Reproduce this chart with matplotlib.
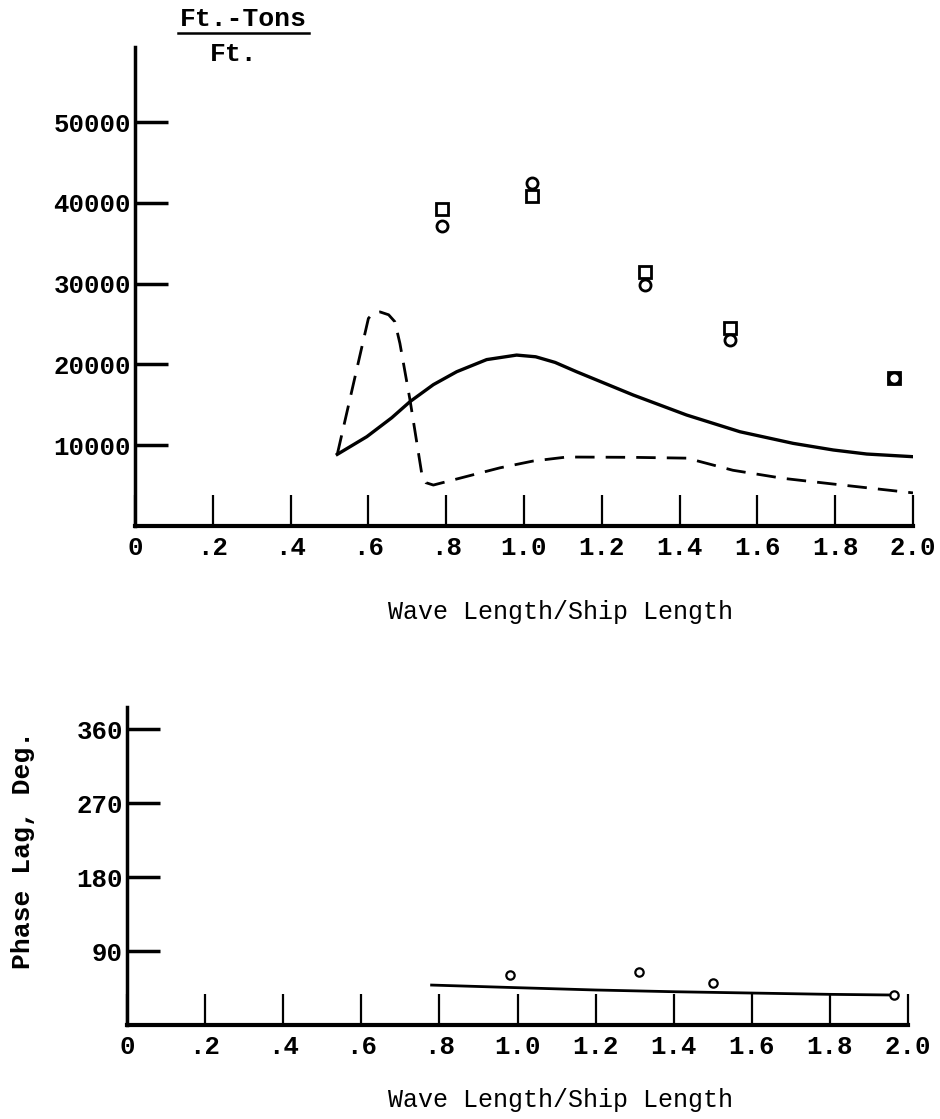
import matplotlib
matplotlib.use("Agg")
import matplotlib.pyplot as plt
from matplotlib.lines import Line2D

plt.rcParams['font.family'] = ['Liberation Mono', 'DejaVu Sans Mono']

# upper chart: bending moment, Ft.-Tons/Ft.
pts_x = [0.79, 1.02, 1.31, 1.53, 1.95]
squares_y = [39300, 40800, 31500, 24500, 18300]
circles_y = [37200, 42500, 29800, 23000, 18300]

solid_x = [0.52, 0.596, 0.66, 0.707, 0.767, 0.827, 0.904, 0.981, 1.03, 1.08, 1.135, 1.281, 1.418, 1.555, 1.692, 1.795, 1.881, 2.0]
solid_y = [8870, 11060, 13400, 15400, 17500, 19100, 20600, 21160, 20950, 20250, 19100, 16210, 13740, 11670, 10230, 9410, 8910, 8580]

dash_x = [0.52, 0.600, 0.612, 0.630, 0.652, 0.668, 0.681, 0.707, 0.737, 0.748, 0.767, 0.938, 1.023, 1.11, 1.28, 1.419, 1.537, 1.666, 1.794, 2.0]
dash_y = [8870, 25700, 26350, 26500, 26150, 25290, 22610, 15590, 6520, 5360, 5070, 7200, 8040, 8540, 8500, 8400, 6900, 5900, 5200, 4100]

# lower chart: phase lag
lag_x = [0.98, 1.31, 1.50, 1.965]
lag_y = [60.8, 64.5, 51, 36.5]
lagline_x = [0.78, 1.0, 1.2, 1.4, 1.8, 1.96]
lagline_y = [48.6, 45.4, 42.6, 40.5, 37.3, 36.5]

xticks = [0, 0.2, 0.4, 0.6, 0.8, 1.0, 1.2, 1.4, 1.6, 1.8, 2.0]
xticklabels = ['0', '.2', '.4', '.6', '.8', '1.0', '1.2', '1.4', '1.6', '1.8', '2.0']
yticks_top = [10000, 20000, 30000, 40000, 50000]
yticks_bot = [90, 180, 270, 360]

fs = 18.5

fig = plt.figure(figsize=(9.4, 11.19), dpi=100)

ax1 = fig.add_axes([135/940, 1-526/1119, 778/940, 479/1119])
ax1.plot(solid_x, solid_y, color='black', lw=2.4, solid_joinstyle='round')
ax1.plot(dash_x, dash_y, color='black', lw=2.0, dashes=(7, 4))
ax1.plot(pts_x, squares_y, 's', ms=8, mfc='none', mec='black', mew=2.0)
ax1.plot(pts_x, circles_y, 'o', ms=8, mfc='none', mec='black', mew=2.0)
ax1.set_xlim(0, 2.0)
ax1.set_ylim(0, 59300)

ax2 = fig.add_axes([127/940, 1-1025/1119, 781/940, 318/1119])
ax2.plot(lagline_x, lagline_y, color='black', lw=2.0)
ax2.plot(lag_x, lag_y, 'o', ms=6, mfc='white', mec='black', mew=1.6)
ax2.set_xlim(0, 2.0)
ax2.set_ylim(0, 387)

for ax, yt in [(ax1, yticks_top), (ax2, yticks_bot)]:
    ax.spines['top'].set_visible(False)
    ax.spines['right'].set_visible(False)
    ax.spines['left'].set_linewidth(2.5)
    ax.spines['bottom'].set_linewidth(3)
    ax.set_xticks(xticks)
    ax.set_xticklabels(xticklabels, fontweight='bold')
    ax.set_yticks(yt)
    ax.set_yticklabels([str(v) for v in yt], fontweight='bold')
    ax.tick_params(axis='x', direction='in', length=22, width=1.6, pad=7, labelsize=fs)
    ax.tick_params(axis='y', direction='in', length=24, width=2.5, pad=3, labelsize=fs)

fig.text(243/940, 1-19/1119, 'Ft.-Tons', ha='center', va='center', fontsize=19, fontweight='bold')
fig.add_artist(Line2D([178/940, 309/940], [1-33/1119, 1-33/1119], color='black', lw=1.8))
fig.text(234/940, 1-54/1119, 'Ft.', ha='center', va='center', fontsize=19, fontweight='bold')

fig.text(560/940, 1-612/1119, 'Wave Length/Ship Length', ha='center', va='center', fontsize=18)
fig.text(560/940, 1-1100/1119, 'Wave Length/Ship Length', ha='center', va='center', fontsize=18)
fig.text(23/940, 1-850/1119, 'Phase Lag, Deg.', rotation=90, ha='center', va='center',
         fontsize=19, fontweight='bold')

fig.savefig('out.png', dpi=100, facecolor='white')
